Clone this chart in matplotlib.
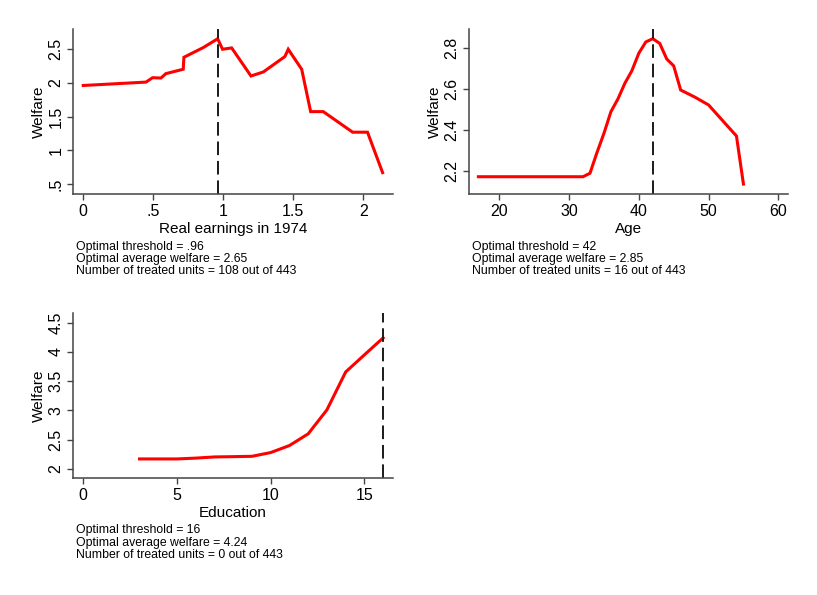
import matplotlib
matplotlib.use('Agg')
from matplotlib import pyplot
import numpy as np

pyplot.rcParams['font.family'] = ['Liberation Sans', 'DejaVu Sans']

# panel 1: real earnings in 1974
earn_x = [0, 0.448, 0.495, 0.555, 0.59, 0.714, 0.719, 0.857, 0.96, 0.995, 1.06,
          1.198, 1.286, 1.44, 1.464, 1.56, 1.624, 1.714, 1.924, 2.03, 2.138]
earn_y = [1.96, 2.01, 2.075, 2.07, 2.135, 2.20, 2.377, 2.52, 2.65, 2.495, 2.515,
          2.10, 2.16, 2.387, 2.495, 2.20, 1.574, 1.574, 1.27, 1.27, 0.672]
earn_thr = 0.96
earn_text = ['Optimal threshold = .96', 'Optimal average welfare = 2.65',
             'Number of treated units = 108 out of 443']

# panel 2: age
age_x = [17, 32, 33, 34, 35, 36, 37, 38, 39, 40, 41, 42, 43, 44, 45, 46, 48, 50, 54, 55]
age_y = [2.172, 2.172, 2.189, 2.29, 2.384, 2.49, 2.552, 2.629, 2.69, 2.776, 2.831,
         2.847, 2.824, 2.748, 2.714, 2.596, 2.562, 2.523, 2.371, 2.136]
age_thr = 42
age_text = ['Optimal threshold = 42', 'Optimal average welfare = 2.85',
            'Number of treated units = 16 out of 443']

# panel 3: education
edu_x = [3, 4, 5, 6, 7, 8, 9, 10, 11, 12, 13, 14, 15, 16]
edu_y = [2.171, 2.171, 2.171, 2.185, 2.205, 2.21, 2.216, 2.28, 2.40, 2.60, 3.01,
         3.657, 3.95, 4.24]
edu_thr = 16
edu_text = ['Optimal threshold = 16', 'Optimal average welfare = 4.24',
            'Number of treated units = 0 out of 443']

W, H = 817, 595
AXCOL = '#444444'


def make_panel(fig, box, x, y, thr, xlab, xlim, ylim, xticks, xticklabels,
               yticks, yticklabels, notes, note_x, note_y):
    l, t, r, b = box
    ax = fig.add_axes([l / W, 1 - b / H, (r - l) / W, (b - t) / H])
    ax.plot(x, y, color='red', lw=2.2, solid_joinstyle='miter')
    ax.axvline(thr, color='#1a1a1a', lw=1.4, dashes=(7, 3))
    ax.set_xlim(xlim)
    ax.set_ylim(ylim)
    ax.set_xticks(xticks)
    ax.set_xticklabels(xticklabels)
    ax.set_yticks(yticks)
    ax.set_yticklabels(yticklabels, rotation=90, va='center')
    ax.spines['top'].set_visible(False)
    ax.spines['right'].set_visible(False)
    for s in ('left', 'bottom'):
        ax.spines[s].set_linewidth(1.1)
        ax.spines[s].set_color(AXCOL)
    ax.tick_params(direction='out', length=4.5, width=1.0, labelsize=11.5, pad=2.5,
                   color=AXCOL)
    ax.set_xlabel(xlab, fontsize=11, labelpad=2.5)
    ax.set_ylabel('Welfare', fontsize=11, labelpad=2)
    for i, txt in enumerate(notes):
        fig.text(note_x / W, 1 - (note_y + 12.2 * i) / H, txt, fontsize=8.8,
                 va='center', ha='left')
    return ax


fig = pyplot.figure(figsize=(8.17, 5.95), dpi=100)

make_panel(fig, (73.3, 29.3, 392.7, 194), earn_x, earn_y, earn_thr,
           'Real earnings in 1974', (-0.071, 2.21), (0.357, 2.79),
           [0, 0.5, 1, 1.5, 2], ['0', '.5', '1', '1.5', '2'],
           [0.5, 1, 1.5, 2, 2.5], ['.5', '1', '1.5', '2', '2.5'],
           earn_text, 76, 246.5)

make_panel(fig, (469.3, 29.3, 788.3, 194), age_x, age_y, age_thr,
           'Age', (15.7, 61.43), (2.0875, 2.893),
           [20, 30, 40, 50, 60], ['20', '30', '40', '50', '60'],
           [2.2, 2.4, 2.6, 2.8], ['2.2', '2.4', '2.6', '2.8'],
           age_text, 471.7, 246.5)

make_panel(fig, (73.3, 313.3, 392.7, 478.3), edu_x, edu_y, edu_thr,
           'Education', (-0.534, 16.51), (1.84, 4.66),
           [0, 5, 10, 15], ['0', '5', '10', '15'],
           [2, 2.5, 3, 3.5, 4, 4.5], ['2', '2.5', '3', '3.5', '4', '4.5'],
           edu_text, 76, 530.5)

pyplot.savefig('out.png', dpi=100)
